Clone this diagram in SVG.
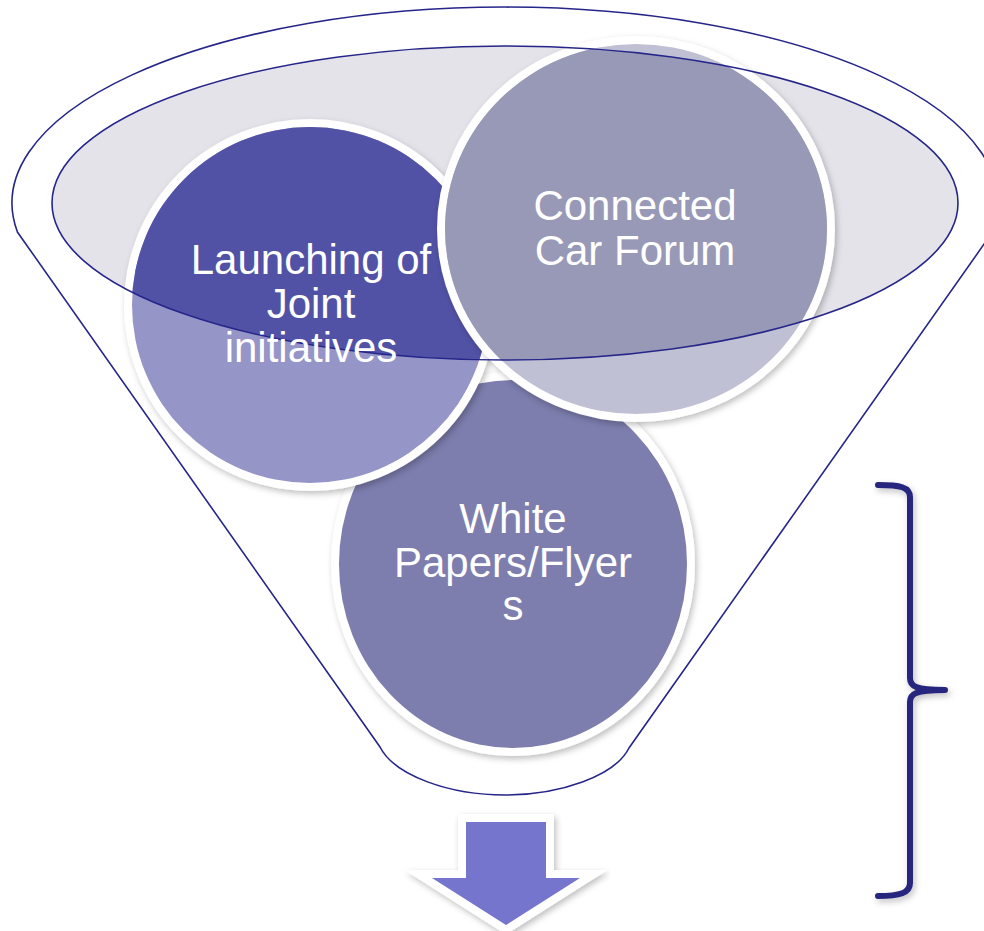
<svg xmlns="http://www.w3.org/2000/svg" width="984" height="931" viewBox="0 0 984 931">
<style>
.outline{fill:none;stroke:#26268a;stroke-width:1.6}
.ring{stroke:#ffffff;stroke-width:16;paint-order:stroke}
.lbl{font-family:"Liberation Sans",Arial,sans-serif;font-size:42px;fill:#ffffff;text-anchor:middle}
</style>
<defs>
<clipPath id="inEll"><ellipse cx="505" cy="203" rx="453" ry="157"/></clipPath>
<filter id="sh" x="-20%" y="-20%" width="140%" height="140%">
<feDropShadow dx="2" dy="3" stdDeviation="3" flood-color="#000" flood-opacity="0.25"/>
</filter>
</defs>
<rect width="984" height="931" fill="#ffffff"/>
<g id="funnel">
<path class="outline" d="M17.4,232 A493,196 0 1 1 992.6,232 L629,748 C615,776 560,795 505,795 C450,795 395,776 380,747 Z"/>
<ellipse cx="505" cy="203" rx="453" ry="157" fill="#e4e3ea"/>
</g>
<g id="node-whitepapers">
<ellipse class="ring" cx="513" cy="564" rx="174" ry="184" fill="#7d7dae" filter="url(#sh)"/>
<text class="lbl" x="513" y="533">White</text>
<text class="lbl" x="513" y="577">Papers/Flyer</text>
<text class="lbl" x="513" y="620">s</text>
</g>
<g id="node-launching">
<circle class="ring" cx="310" cy="305" r="178" fill="#9595c8" filter="url(#sh)"/>
<circle cx="310" cy="305" r="178" fill="#5152a6" clip-path="url(#inEll)"/>
</g>
<g id="node-connected">
<ellipse class="ring" cx="636" cy="229" rx="191" ry="185" fill="#c0c0d4" filter="url(#sh)"/>
<ellipse cx="636" cy="229" rx="191" ry="185" fill="#9899b7" clip-path="url(#inEll)"/>
</g>
<ellipse class="outline" cx="505" cy="203" rx="453" ry="157"/>
<g id="labels">
<text class="lbl" x="311" y="274">Launching of</text>
<text class="lbl" x="311" y="318">Joint</text>
<text class="lbl" x="311" y="362">initiatives</text>
<text class="lbl" x="635" y="220">Connected</text>
<text class="lbl" x="635" y="265">Car Forum</text>
</g>
<g id="connectors">
<polygon id="arrow" points="466,822 546,822 546,878 580,878 506,925 432,878 466,878" fill="#7474cd" stroke="#ffffff" stroke-width="16" stroke-linejoin="miter" paint-order="stroke" filter="url(#sh)"/>
<path id="brace" d="M878,485 C900,485 910,487 910,497 L910,678 C910,686 915,690 945,690 M945,690 C915,690 910,694 910,702 L910,883 C910,893 900,896 878,896" fill="none" stroke="#26267e" stroke-width="6" stroke-linecap="round" filter="url(#sh)"/>
</g>
</svg>
